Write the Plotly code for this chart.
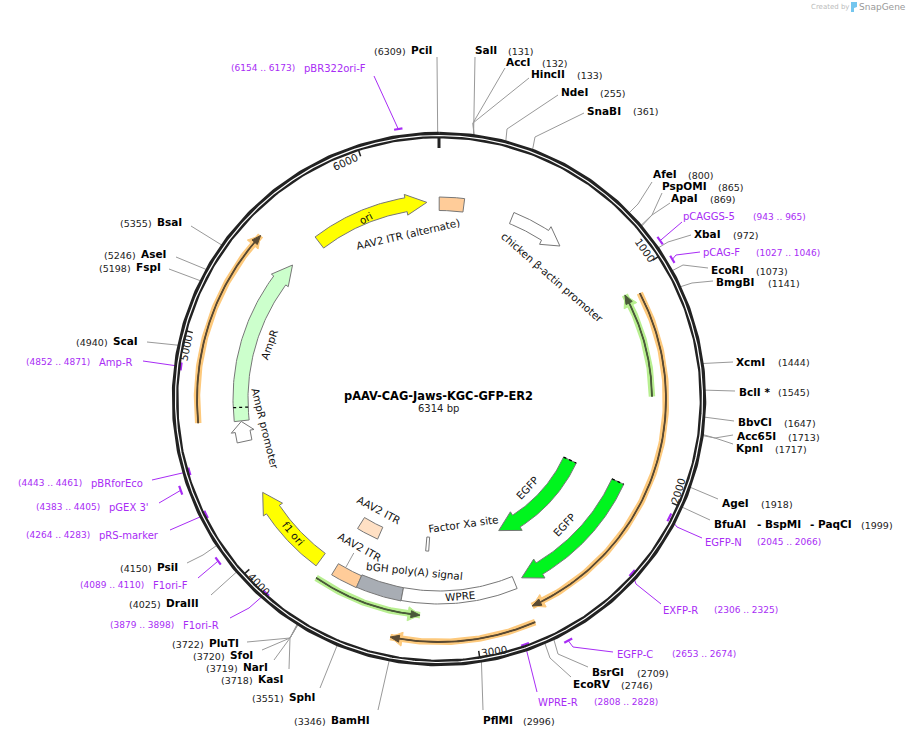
import numpy as np
import plotly.graph_objects as go

TOTAL_BP = 6314
PLASMID = "pAAV-CAG-Jaws-KGC-GFP-ER2"

# restriction sites
SITE_NAMES = ["SalI", "AccI", "HincII", "NdeI", "SnaBI", "AfeI", "PspOMI", "ApaI", "XbaI", "EcoRI",
              "BmgBI", "XcmI", "BclI *", "BbvCI", "Acc65I", "KpnI", "AgeI", "BfuAI", "BsrGI", "EcoRV",
              "PflMI", "BamHI", "SphI", "KasI", "NarI", "SfoI", "PluTI", "DraIII", "PsiI", "ScaI",
              "FspI", "AseI", "BsaI", "PciI"]
SITE_BP = [131, 132, 133, 255, 361, 800, 865, 869, 972, 1073,
           1141, 1444, 1545, 1647, 1713, 1717, 1918, 1999, 2709, 2746,
           2996, 3346, 3551, 3718, 3719, 3720, 3722, 4025, 4150, 4940,
           5198, 5246, 5355, 6309]

# primers
PRIMER_NAMES = ["pCAGGS-5", "pCAG-F", "EGFP-N", "EXFP-R", "EGFP-C", "WPRE-R", "F1ori-R", "F1ori-F",
                "pRS-marker", "pGEX 3'", "pBRforEco", "Amp-R", "pBR322ori-F"]
PRIMER_START = [943, 1027, 2045, 2306, 2653, 2808, 3879, 4089, 4264, 4383, 4443, 4852, 6154]
PRIMER_END = [965, 1046, 2066, 2325, 2674, 2828, 3898, 4110, 4283, 4405, 4461, 4871, 6173]

# directional features, tail bp -> tip bp
ARROW_NAMES = ["ori", "chicken \u03b2-actin promoter", "AmpR", "AmpR promoter", "f1 ori", "EGFP inner", "EGFP outer"]
ARROW_TAIL = [5658, 384, 4625, 4520, 3795, 2017, 2013]
ARROW_TIP = [6252, 672, 5480, 4622, 4246, 2729, 2722]

# plain box features
BOX_NAMES = ["AAV2 ITR (alternate)", "AAV2 ITR pale", "AAV2 ITR", "bGH poly(A) signal", "WPRE", "Factor Xa site"]
BOX_START = [1, 3572, 3572, 3344, 2764, 3225]
BOX_END = [128, 3721, 3708, 3572, 3344, 3245]

# thin halo arrows (translated features)
HALO_NAMES = ["orange a", "orange b", "orange c", "green a", "green b"]
HALO_TAIL = [1091, 2748, 4635, 1567, 3762]
HALO_TIP = [2732, 3360, 5481, 1066, 3245]

TICK_BP = [1000, 2000, 3000, 4000, 5000, 6000]
TICK_TEXT = ["1000", "2000", "3000", "4000", "5000", "6000"]

# ---- layout below, pixel positions of the picture ----
CX, CY = 439, 399
GRAY = "#999999"
PURPLE = "#a82cf5"
FONT = "DejaVu Sans"

# name x, name y, number x, number y
SITE_POS = {
    "SalI": (475, 50, 508, 51), "AccI": (506, 62, 542, 63), "HincII": (531, 74, 577, 75),
    "NdeI": (561, 92, 600, 93), "SnaBI": (587, 111, 633, 111), "AfeI": (653, 174, 688, 175),
    "PspOMI": (662, 186, 718, 187), "ApaI": (671, 198, 710, 199), "XbaI": (694, 234, 733, 235),
    "EcoRI": (711, 270, 756, 271), "BmgBI": (716, 282, 768, 283), "XcmI": (736, 362, 778, 362),
    "BclI *": (739, 392, 778, 392), "BbvCI": (738, 422, 784, 423), "Acc65I": (737, 436, 788, 437),
    "KpnI": (736, 448, 775, 449), "AgeI": (722, 503, 761, 504), "BfuAI": (714, 524, 861, 525),
    "BsrGI": (592, 672, 637, 673), "EcoRV": (573, 684, 621, 685), "PflMI": (483, 720, 523, 721),
    "BamHI": (331, 720, 294, 721), "SphI": (289, 697, 252, 698), "KasI": (258, 679, 221, 680),
    "NarI": (243, 667, 206, 668), "SfoI": (230, 655, 193, 656), "PluTI": (209, 643, 172, 644),
    "DraIII": (166, 603, 129, 604), "PsiI": (157, 567, 120, 568), "ScaI": (113, 341, 76, 342),
    "FspI": (136, 267, 99, 268), "AseI": (141, 254, 104, 255), "BsaI": (157, 222, 120, 223),
    "PciI": (411, 50, 374, 51),
}
# waypoints from the label towards the ring
SITE_LEADER = {
    "SalI": [(475, 57)], "AccI": [(505, 68), (473, 123)], "HincII": [(529, 78), (473, 123)],
    "NdeI": [(558, 95), (507, 129)], "SnaBI": [(584, 113), (535, 137)], "AfeI": [(652, 182), (638, 204)],
    "PspOMI": [(662, 193), (652, 215)], "ApaI": [(670, 203), (652, 215)], "XbaI": [(691, 235), (668, 242)],
    "EcoRI": [(708, 268), (683, 265)], "BmgBI": [(713, 281), (692, 283)], "XcmI": [(733, 362)],
    "BclI *": [(735, 391)], "BbvCI": [(734, 421)], "Acc65I": [(733, 435), (715, 438)],
    "KpnI": [(733, 444), (715, 438)], "AgeI": [(718, 499)], "BfuAI": [(710, 520)],
    "BsrGI": [(588, 667), (558, 654)], "EcoRV": [(571, 677), (550, 658)], "PflMI": [(483, 710)],
    "BamHI": [(378, 710)], "SphI": [(320, 688)], "KasI": [(289, 669), (290, 638)],
    "NarI": [(274, 660), (290, 638)], "SfoI": [(262, 650), (290, 638)], "PluTI": [(247, 642), (290, 638)],
    "DraIII": [(211, 595)], "PsiI": [(187, 563), (203, 555)], "ScaI": [(147, 342)],
    "FspI": [(169, 269)], "AseI": [(176, 257)], "BsaI": [(191, 226)], "PciI": [(437, 57)],
}
# name x, name y, range x, range y, mark radius
PRIMER_POS = {
    "pCAGGS-5": (683, 216, 753, 217, 272), "pCAG-F": (703, 252, 756, 253, 272),
    "EGFP-N": (705, 542, 757, 542, 259), "EXFP-R": (663, 610, 714, 610, 260),
    "EGFP-C": (617, 654, 672, 654, 274), "WPRE-R": (538, 702, 594, 702, 260),
    "F1ori-R": (183, 625, 110, 625, 260), "F1ori-F": (153, 585, 80, 585, 274),
    "pRS-marker": (99, 535, 26, 535, 260), "pGEX 3'": (109, 507, 36, 507, 274),
    "pBRforEco": (91, 483, 18, 483, 260), "Amp-R": (99, 362, 26, 362, 260),
    "pBR322ori-F": (304, 68, 231, 68, 273),
}
PRIMER_LEADER = {
    "pCAGGS-5": [(682, 222)], "pCAG-F": [(700, 252), (676, 255)], "EGFP-N": [(702, 538), (677, 527)],
    "EXFP-R": [(661, 604), (636, 584)], "EGFP-C": [(613, 652), (573, 647)], "WPRE-R": [(537, 692)],
    "F1ori-R": [(230, 618), (249, 608)], "F1ori-F": [(198, 578)], "pRS-marker": [(170, 530), (197, 518)],
    "pGEX 3'": [(159, 503)], "pBRforEco": [(152, 480), (180, 473)], "Amp-R": [(143, 361), (157, 363)],
    "pBR322ori-F": [(374, 76)],
}
MARK_PAD_BP = 6
# radius, body width, head length, head width, fill
ARROW_STYLE = {
    "ori": (197, 14, 21, 21, "#ffff00"),
    "chicken \u03b2-actin promoter": (195, 12, 18, 21, "#ffffff"),
    "AmpR": (198.5, 15, 20, 21, "#ccffcc"),
    "AmpR promoter": (199, 15, 10, 23, "#ffffff"),
    "f1 ori": (199.5, 15.5, 20, 23, "#ffff00"),
    "EGFP inner": (144.5, 14, 20, 22, "#00f51e"),
    "EGFP outer": (197, 13, 20, 22, "#00f51e"),
}
# inner radius, outer radius, fill
BOX_STYLE = {
    "AAV2 ITR (alternate)": (188.5, 202, "#ffcc99"),
    "AAV2 ITR pale": (140, 153, "#ffe0c4"),
    "AAV2 ITR": (193, 206, "#ffcc99"),
    "bGH poly(A) signal": (192, 205.5, "#a8adb4"),
    "WPRE": (192, 205, "#ffffff"),
    "Factor Xa site": (138.5, 152.5, "#ffffff"),
}
# radius, halo colour, line colour
HALO_STYLE = {
    "orange a": (227, "#fdc97c", "#5a4a33"),
    "orange b": (243, "#fdc97c", "#5a4a33"),
    "orange c": (242, "#fdc97c", "#5a4a33"),
    "green a": (213, "#b8ef90", "#4a5a3a"),
    "green b": (217, "#b8ef90", "#4a5a3a"),
}
# text, x, y, angle
FEATURE_TEXT = [
    ("ori", 366, 218, -28), ("AAV2 ITR (alternate)", 408, 234, -13),
    ("chicken \u03b2-actin promoter", 552, 277, 41), ("AmpR", 269, 345, -70),
    ("AmpR promoter", 265, 428, 76), ("f1 ori", 293, 533, 50),
    ("AAV2 ITR", 379, 510, 28), ("AAV2 ITR", 360, 547, 29),
    ("bGH poly(A) signal", 414, 571, 6), ("WPRE", 460, 596, -5),
    ("Factor Xa site", 463, 524, -8), ("EGFP", 527, 488, -47), ("EGFP", 564, 525, -47),
]
TICK_POS = [(645, 250, 55), (678, 491, -73), (494, 651, -8), (259, 584, 47), (186, 348, -78), (345, 162, -25)]


def ring_xy(bp, r):
    t = np.radians(np.asarray(bp, dtype=float) / TOTAL_BP * 360)
    return CX + r * np.sin(t), CY - r * np.cos(t)


def arc(start, end, r, n=60):
    return ring_xy(np.linspace(start, end, n), r)


def arrow_outline(tail, tip, r, body, head_len, head_w):
    sign = 1 if tip > tail else -1
    neck = tip - sign * head_len / (2 * np.pi * r) * TOTAL_BP
    x1, y1 = arc(tail, neck, r + body / 2)
    x2, y2 = arc(neck, tail, r - body / 2)
    hx, hy = ring_xy([neck, tip, neck], np.array([r + head_w / 2, r, r - head_w / 2]))
    xs = np.concatenate([x1, hx, x2, x1[:1]])
    ys = np.concatenate([y1, hy, y2, y1[:1]])
    return xs, ys


fig = go.Figure()


def add_line(xs, ys, color, width, dash=None):
    fig.add_trace(go.Scatter(x=xs, y=ys, mode="lines", line=dict(color=color, width=width, dash=dash),
                             hoverinfo="skip", showlegend=False))


def add_poly(xs, ys, fill, edge="#777777", width=1):
    fig.add_trace(go.Scatter(x=xs, y=ys, mode="lines", fill="toself", fillcolor=fill,
                             line=dict(color=edge, width=width), hoverinfo="skip", showlegend=False))


def add_text(text, x, y, size, color="#000000", bold=False, angle=0, anchor="left"):
    # left anchored text came out a pixel to the right
    fig.add_annotation(x=x - 1 if anchor == "left" else x, y=y, text=f"<b>{text}</b>" if bold else text,
                       showarrow=False, xref="x", yref="y", xanchor=anchor, yanchor="middle", textangle=angle,
                       font=dict(family=FONT, size=size, color=color), borderpad=0)


# halo arrows
for name, tail, tip in zip(HALO_NAMES, HALO_TAIL, HALO_TIP):
    r, halo, dark = HALO_STYLE[name]
    xs, ys = arc(tail, tip, r, 120)
    add_line(xs, ys, halo, 6.5)
    hx, hy = arrow_outline(tail, tip, r, 0, 12, 14)
    add_poly(hx, hy, halo, halo, 1)
    add_line(xs[:-3], ys[:-3], dark, 1.8)
    hx, hy = arrow_outline(tail, tip, r, 0, 9, 7)
    add_poly(hx, hy, dark, dark, 1)

# boxes
for name, start, end in zip(BOX_NAMES, BOX_START, BOX_END):
    inner, outer, fill = BOX_STYLE[name]
    x1, y1 = arc(start, end, outer, 40)
    x2, y2 = arc(end, start, inner, 40)
    add_poly(np.concatenate([x1, x2, x1[:1]]), np.concatenate([y1, y2, y1[:1]]), fill)

# arrows
for name, tail, tip in zip(ARROW_NAMES, ARROW_TAIL, ARROW_TIP):
    r, body, head_len, head_w, fill = ARROW_STYLE[name]
    xs, ys = arrow_outline(tail, tip, r, body, head_len, head_w)
    add_poly(xs, ys, fill)

# dotted edges where a feature was cut
for name, tail in [("EGFP inner", ARROW_TAIL[5]), ("EGFP outer", ARROW_TAIL[6])]:
    r, body = ARROW_STYLE[name][:2]
    xs, ys = ring_xy([tail, tail], np.array([r - body / 2, r + body / 2]))
    add_line(xs, ys, "#000000", 1.2, "dot")
xs, ys = ring_xy([4693, 4693], np.array([191.0, 206.0]))
add_line(xs, ys, "#000000", 1.2, "dot")

# label stub for the lower AAV2 ITR
xs, ys = ring_xy([3665, 3665], np.array([176.0, 192.0]))
add_line(xs, ys, GRAY, 1)

# site leaders
for name, bp in zip(SITE_NAMES, SITE_BP):
    rx, ry = ring_xy(bp, 266)
    pts = SITE_LEADER[name]
    add_line([p[0] for p in pts] + [float(rx)], [p[1] for p in pts] + [float(ry)], GRAY, 1)

# primer leaders and marks
for name, start, end in zip(PRIMER_NAMES, PRIMER_START, PRIMER_END):
    r = PRIMER_POS[name][4]
    mx, my = ring_xy((start + end) / 2, r)
    pts = PRIMER_LEADER[name]
    add_line([p[0] for p in pts] + [float(mx)], [p[1] for p in pts] + [float(my)], PURPLE, 1)
    xs, ys = arc(start - MARK_PAD_BP, end + MARK_PAD_BP, r, 8)
    add_line(xs, ys, PURPLE, 2.2)

# backbone ring
xs, ys = arc(0, TOTAL_BP, 264, 720)
add_line(xs, ys, "#222222", 6.6)
xs, ys = arc(0, TOTAL_BP, 263.5, 720)
add_line(xs, ys, "#ffffff", 1.2)

# ticks
xs, ys = ring_xy([0, 0], np.array([262.0, 251.0]))
add_line(xs, ys, "#222222", 3)
for bp, text, (tx, ty, ang) in zip(TICK_BP, TICK_TEXT, TICK_POS):
    xs, ys = ring_xy([bp, bp], np.array([262.0, 255.0]))
    add_line(xs, ys, "#222222", 1.5)
    add_text(text, tx, ty, 10.4, "#222222", angle=ang, anchor="center")

# texts
for name, bp in zip(SITE_NAMES, SITE_BP):
    nx, ny, px, py = SITE_POS[name]
    add_text(name, nx, ny, 10.5, bold=True)
    add_text(f"({bp})", px, py, 9.5, "#222222")
add_text("- BspMI", 757, 524, 10.5, bold=True)
add_text("- PaqCI", 810, 524, 10.5, bold=True)

for name, start, end in zip(PRIMER_NAMES, PRIMER_START, PRIMER_END):
    nx, ny, px, py, _ = PRIMER_POS[name]
    add_text(name, nx, ny, 10, PURPLE)
    add_text(f"({start} .. {end})", px, py, 9, PURPLE)

for text, tx, ty, ang in FEATURE_TEXT:
    add_text(text, tx, ty, 10.4, "#111111", angle=ang, anchor="center")

add_text(PLASMID, 438, 396, 11.4, bold=True, anchor="center")
add_text(f"{TOTAL_BP} bp", 438, 408, 10, "#222222", anchor="center")

# SnapGene credit
add_text("Created by", 811, 7, 7, "#bbbbbb")
add_text("SnapGene", 859, 7, 9, "#999999")
fig.add_shape(type="path", path="M 851 2 L 857 2 L 857 7 L 854 8 L 854 12 L 851 12 Z",
              xref="x", yref="y", fillcolor="#74c6ee", line=dict(width=0))

fig.update_xaxes(range=[0, 908], visible=False, fixedrange=True)
fig.update_yaxes(range=[737, 0], visible=False, fixedrange=True)
fig.update_layout(width=908, height=737, margin=dict(l=0, r=0, t=0, b=0),
                  plot_bgcolor="#ffffff", paper_bgcolor="#ffffff", showlegend=False)

fig.write_html("out.html", config={"displayModeBar": False}, post_script="document.body.style.margin='0';")
